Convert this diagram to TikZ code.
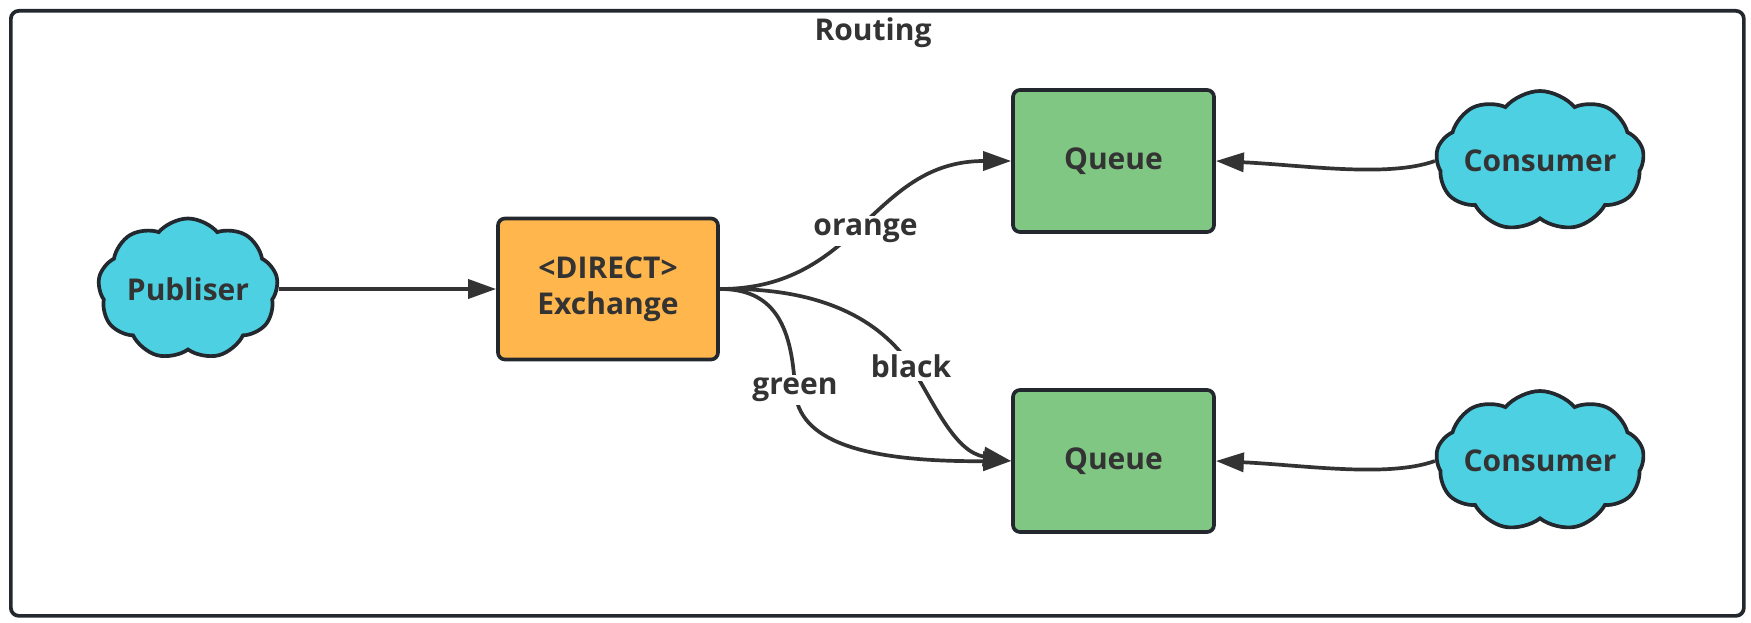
\documentclass[tikz,border=0pt]{standalone}
\usepackage{fontspec}
\setmainfont{Open Sans}
\usetikzlibrary{shapes.symbols,arrows.meta}
\definecolor{ink}{HTML}{333333}
\definecolor{edgec}{HTML}{22282E}
\definecolor{cyanfill}{HTML}{4DD0E1}
\definecolor{orangefill}{HTML}{FFB74D}
\definecolor{greenfill}{HTML}{81C784}
\begin{document}
\begin{tikzpicture}[x=1pt,y=-1pt,
  every node/.style={font=\fontsize{30}{36}\selectfont\bfseries, text=ink},
  cloudnode/.style={shape=cloud, cloud puffs=9, cloud puff arc=100, cloud ignores aspect, draw=edgec, line width=3.7pt, fill=cyanfill, minimum width=180pt, minimum height=141pt, inner sep=0pt},
  boxnode/.style={draw=edgec, line width=3.7pt, rounded corners=7pt, inner sep=0pt, align=center},
  conn/.style={draw=ink, line width=3.7pt, -{Triangle[length=28pt,width=19pt]}},
  lbl/.style={fill=white, inner sep=3pt}
]
\useasboundingbox (0,0) rectangle (1751,623);
\node[draw=edgec, line width=3.7pt, rounded corners=8pt, minimum width=1733pt, minimum height=605pt, anchor=north west, inner sep=0pt] (frame) at (9,9) {};
\node (title) at (873,33) {Routing};
\node[cloudnode] (pub) at (188,289) {Publiser};
\node[boxnode, fill=orangefill, minimum width=220pt, minimum height=141pt] (ex) at (608,289) {<DIRECT>\\Exchange};
\node[boxnode, fill=greenfill, minimum width=201pt, minimum height=142pt] (q1) at (1113.5,161) {Queue};
\node[boxnode, fill=greenfill, minimum width=201pt, minimum height=142pt] (q2) at (1113.5,461) {Queue};
\node[cloudnode, minimum width=190pt, minimum height=140pt] (c1) at (1540,161) {Consumer};
\node[cloudnode, minimum width=190pt, minimum height=140pt] (c2) at (1540,461) {Consumer};
\draw[conn] (pub.east) -- (ex.west);
\draw[conn] (ex.east) .. controls +(140,0) and +(-140,0) .. node[lbl, yshift=-6pt] {orange} (q1.west);
\draw[conn] (ex.east) .. controls +(102,-2) and (880,320) .. (911,366) node[lbl] {black} .. controls (935,405) and (955,452) .. (q2.west);
\draw[conn] (ex.east) .. controls +(52,0) and (792,322) .. (795,390) node[lbl] {green} .. controls (798,440) and (860,462) .. (q2.west);
\draw[conn] (c1.west) .. controls +(-47,17) and +(86,4) .. (q1.east);
\draw[conn] (c2.west) .. controls +(-47,17) and +(86,4) .. (q2.east);
\end{tikzpicture}
\end{document}
